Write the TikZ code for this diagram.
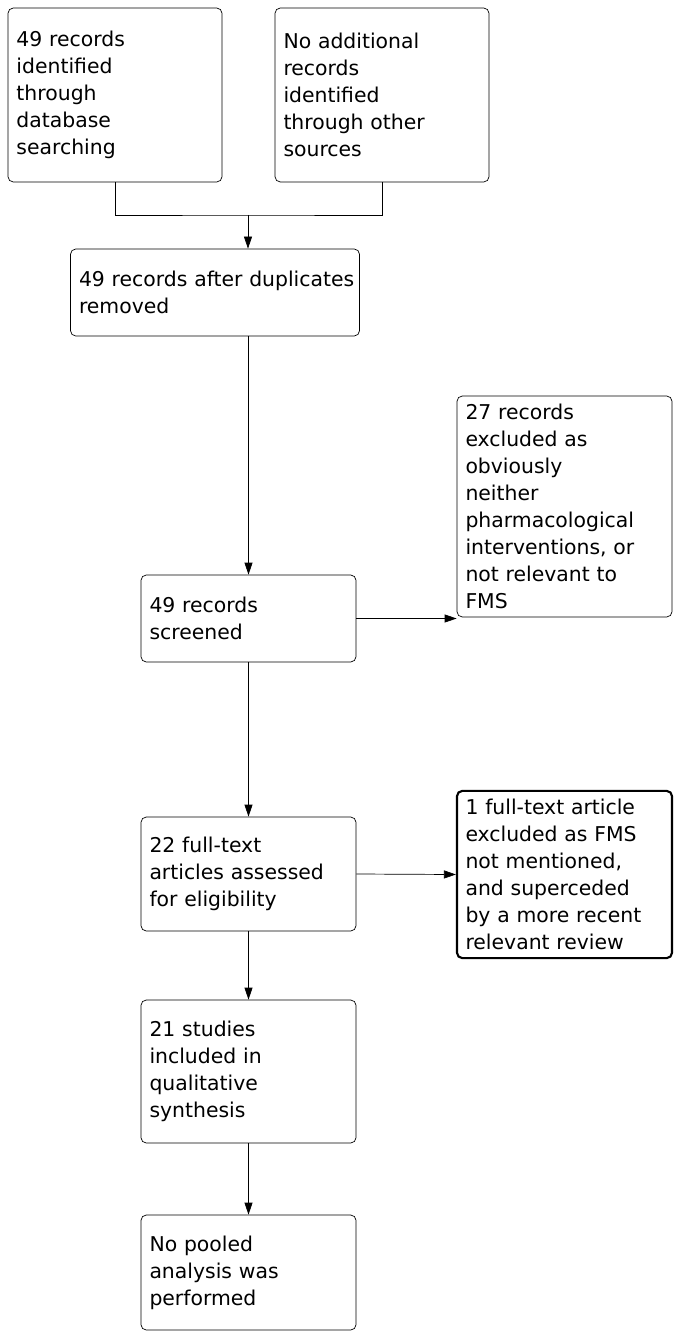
\documentclass[tikz,border=0pt]{standalone}
\usepackage{fontspec}
\setmainfont{DejaVu Sans}
\usetikzlibrary{arrows.meta}
\tikzset{
    box/.style={draw, rounded corners=3pt, align=left, inner sep=0.17cm,
        font=\fontsize{11.6}{15.3}\selectfont},
    flow/.style={-{Triangle[length=2.4mm,width=1.6mm]}}
}
\begin{document}
\begin{tikzpicture}
    \useasboundingbox (0,0) rectangle (13.6,-26.8);

    % boxes
    \node[box, minimum width=4.28cm, minimum height=3.48cm, text width=3.94cm] (db) at (2.30,-1.90)
        {49 records\\identified\\through\\database\\searching};
    \node[box, minimum width=4.28cm, minimum height=3.48cm, text width=3.94cm] (other) at (7.64,-1.90)
        {No additional\\records\\identified\\through other\\sources};
    \node[box, minimum width=5.68cm, minimum height=1.74cm, text width=5.44cm] (dup) at (4.30,-5.85)
        {\hbox{49 records after duplicates}\\removed};
    \node[box, minimum width=4.30cm, minimum height=4.02cm, text width=3.96cm] (excl) at (11.29,-10.13)
        {27 records\\excluded as\\obviously\\neither\\pharmacological\\interventions, or\\not relevant to\\FMS};
    \node[box, minimum width=4.30cm, minimum height=1.74cm, text width=3.96cm] (screen) at (4.97,-12.37)
        {49 records\\screened};
    \node[box, minimum width=4.30cm, minimum height=2.28cm, text width=3.96cm] (full) at (4.97,-17.48)
        {22 full-text\\articles assessed\\for eligibility};
    \node[box, very thick, minimum width=4.30cm, minimum height=2.30cm, text width=3.96cm] (fullex) at (11.29,-17.49)
        {1 full-text article\\excluded as FMS\\not mentioned,\\and superceded\\by a more recent\\relevant review};
    \node[box, minimum width=4.30cm, minimum height=2.86cm, text width=3.96cm] (incl) at (4.97,-21.43)
        {21 studies\\included in\\qualitative\\synthesis};
    \node[box, minimum width=4.30cm, minimum height=2.30cm, text width=3.96cm] (pool) at (4.97,-25.45)
        {No pooled\\analysis was\\performed};

    % connectors
    \coordinate (merge) at (4.96,-4.30);
    \draw (db.south) |- (merge) -| (other.south);
    \draw[flow] (merge) -- (merge |- dup.north);
    \draw[flow] (screen.north |- dup.south) -- (screen.north);
    \draw[flow] (screen.east) -- (excl.west |- screen.east);
    \draw[flow] (screen) -- (full);
    \draw[flow] (full.east) -- (fullex.west);
    \draw[flow] (full) -- (incl);
    \draw[flow] (incl) -- (pool);
\end{tikzpicture}
\end{document}
